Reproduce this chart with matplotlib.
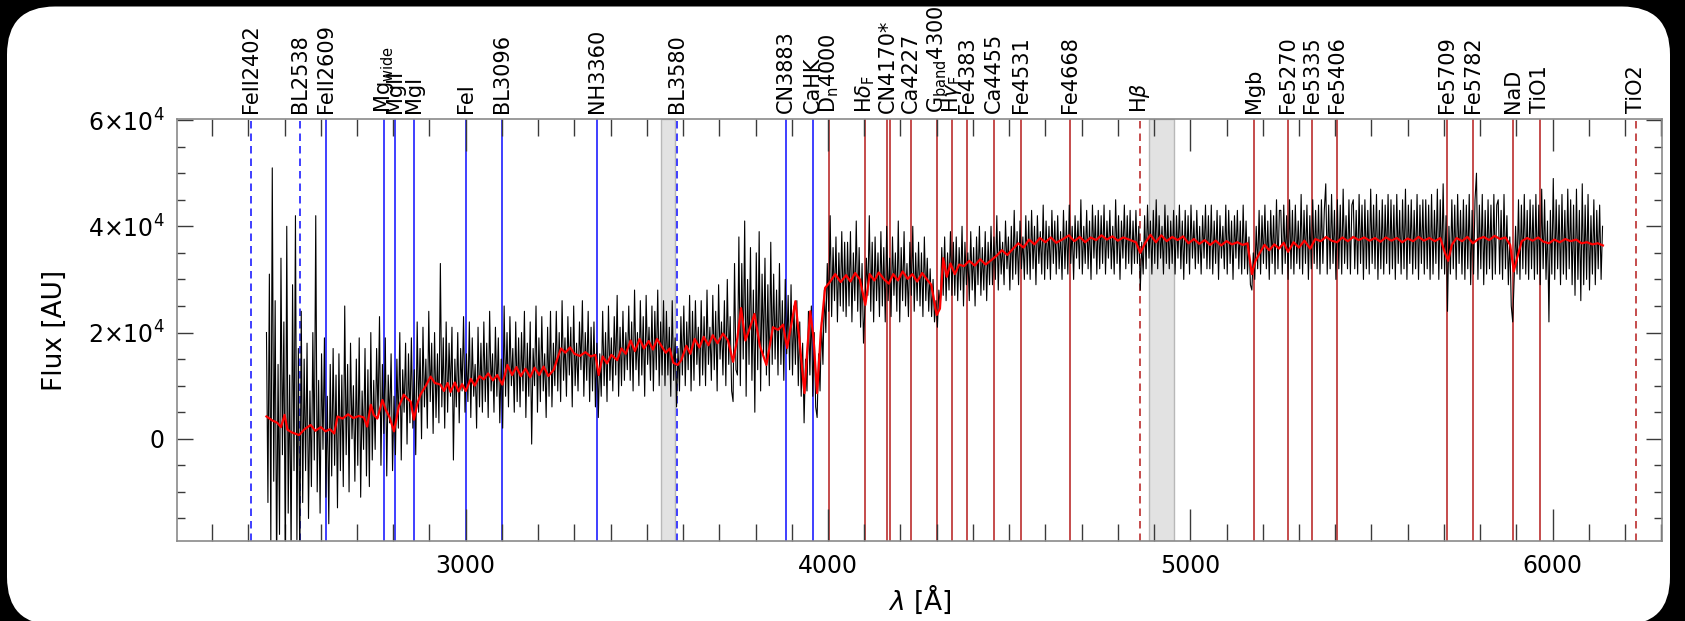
import numpy as np
import matplotlib.pyplot as plt
from matplotlib.patches import FancyBboxPatch
from matplotlib.transforms import IdentityTransform, blended_transform_factory
from matplotlib.ticker import MultipleLocator

plt.rcParams['font.family'] = 'DejaVu Sans'
plt.rcParams['mathtext.fontset'] = 'dejavusans'

# observed spectrum, 4 A sampling starting at 2450 A, flux in units of 1e3
obs_start = 2450
obs_step = 4
obs_flux = [
    20, -12, 31, -20, 51, -8, 26, -25, 14, -18, 34, -3, 22, -24, 40, -14, 12, -22, 29, -6, 42, -19, 17, -25, 24,
    -12, 15, -6, 18, -15, 9, -9, 20, -4, 42, -10, 11, -14, 16, -2, 19, -11, 8, -16, 14, -7, 17, -5, 12, -13,
    16, -6, 12, -9, 25, -3, 14, -10, 18, 0, 10, -8, 15, -5, 19, -11, 9, -2, 17, -7, 13, -9, 20, -4, 11,
    -2, 17, 4, 23, -5, 14, 1, 19, -7, 12, 3, 16, -6, 8, -3, 15, 2, 20, -4, 13, 5, 18, -1, 16, 3,
    19, 2, 13, -3, 22, 5, 17, 0, 21, 6, 15, 2, 24, 7, 18, 1, 20, 4, 16, 3, 33, 6, 19, 2, 22,
    5, 18, 8, 21, -4, 15, 6, 20, 3, 17, 9, 23, 5, 16, 7, 22, 4, 19, 8, 14, 2, 21, 6, 18, 5,
    22, 7, 18, 4, 24, 9, 16, 5, 21, 8, 19, 3, 15, 2, 25, 8, 20, 6, 23, 10, 17, 5, 22, 7, 19,
    6, 20, 9, 24, 4, 18, 8, 22, -1, 17, 10, 25, 5, 19, 7, 23, 9, 16, 4, 21, 8, 24, 6, 18, 10,
    24, 9, 20, 7, 26, 11, 19, 8, 23, 12, 21, 6, 25, 10, 18, 9, 22, 13, 26, 8, 20, 11, 24, 7, 21,
    9, 22, 6, 18, 4, 16, 8, 24, 10, 20, 7, 25, 11, 19, 9, 23, 12, 27, 8, 21, 10, 24, 11, 20, 13,
    25, 11, 22, 9, 28, 13, 20, 10, 26, 12, 23, 8, 27, 14, 21, 11, 25, 9, 24, 13, 28, 10, 22, 12, 26,
    10, 24, 12, 21, 8, 26, 11, 19, 6, 17, 9, 23, 12, 25, 10, 22, 13, 27, 9, 24, 11, 26, 14, 21, 10,
    26, 12, 23, 10, 28, 14, 21, 11, 27, 13, 24, 9, 29, 15, 22, 12, 26, 10, 30, 14, 23, 9, 7, 33, 13,
    12, 38, 10, 33, 15, 41, 8, 30, 14, 36, 11, 28, 5, 35, 13, 39, 9, 31, 16, 34, 12, 29, 10, 37, 14,
    31, 15, 28, 12, 33, 14, 26, 11, 30, 16, 27, 13, 29, 12, 25, 14, 26, 10, 22, 8, 18, 3, 15, 9, 24,
    12, 25, 8, 20, 6, 4, 16, 9, 22, 14, 28, 20, 33, 24, 42, 23, 36, 26, 38, 22, 35, 25, 39, 24, 37,
    23, 37, 25, 39, 22, 35, 26, 41, 24, 36, 21, 33, 18, 25, 34, 27, 42, 24, 37, 22, 38, 26, 35, 23, 39,
    25, 36, 22, 40, 26, 34, 23, 38, 27, 35, 24, 41, 22, 36, 26, 39, 25, 33, 23, 37, 27, 40, 24, 35, 26,
    37, 25, 35, 23, 38, 26, 34, 24, 32, 23, 30, 22, 26, 21, 28, 25, 36, 27, 38, 26, 35, 28, 39, 27, 37,
    27, 38, 26, 36, 28, 40, 25, 37, 29, 35, 26, 39, 28, 36, 25, 38, 29, 40, 27, 36, 28, 39, 26, 37, 29,
    40, 29, 38, 30, 42, 28, 39, 31, 37, 29, 41, 32, 38, 28, 40, 30, 43, 31, 39, 29, 41, 32, 38, 30, 42,
    31, 41, 30, 43, 32, 40, 29, 42, 33, 39, 31, 44, 30, 41, 32, 40, 30, 43, 33, 41, 31, 42, 32, 39, 30,
    43, 32, 41, 31, 44, 33, 40, 30, 42, 34, 41, 32, 45, 31, 40, 33, 43, 32, 41, 30, 44, 34, 42, 31, 43,
    32, 42, 33, 44, 31, 41, 34, 43, 32, 40, 31, 45, 33, 42, 30, 41, 34, 44, 32, 42, 33, 43, 31, 41, 33,
    43, 33, 40, 28, 37, 31, 42, 32, 44, 34, 41, 31, 43, 33, 45, 32, 42, 34, 40, 31, 44, 33, 42, 32, 41,
    33, 43, 31, 42, 34, 44, 32, 41, 30, 43, 33, 42, 31, 44, 34, 41, 32, 43, 33, 40, 31, 42, 34, 44, 32,
    42, 32, 44, 31, 41, 33, 43, 30, 42, 34, 40, 32, 44, 31, 43, 33, 41, 30, 42, 34, 43, 32, 41, 31, 44,
    32, 41, 31, 38, 29, 28, 35, 30, 40, 32, 43, 31, 42, 33, 44, 32, 41, 30, 43, 33, 42, 31, 45, 32, 43,
    43, 31, 44, 33, 42, 30, 45, 32, 43, 31, 44, 33, 41, 32, 46, 31, 43, 33, 44, 30, 42, 32, 45, 33, 43,
    32, 44, 31, 45, 33, 43, 48, 31, 44, 32, 46, 33, 43, 30, 45, 32, 44, 31, 47, 33, 42, 32, 45, 31, 44,
    45, 32, 43, 31, 46, 33, 44, 30, 45, 32, 43, 31, 47, 33, 44, 32, 46, 30, 43, 32, 45, 31, 44, 33, 46,
    31, 45, 32, 44, 30, 46, 33, 43, 31, 45, 32, 47, 30, 44, 33, 45, 31, 43, 32, 46, 30, 44, 33, 45, 31,
    45, 32, 44, 30, 46, 31, 43, 33, 47, 30, 45, 32, 48, 31, 42, 24, 40, 31, 45, 32, 44, 30, 46, 33, 43,
    31, 45, 30, 44, 32, 46, 29, 43, 31, 45, 50, 30, 44, 32, 46, 29, 43, 31, 45, 32, 44, 30, 46, 31, 44,
    45, 31, 43, 30, 46, 32, 42, 29, 38, 25, 22, 30, 40, 31, 45, 30, 44, 32, 46, 31, 43, 30, 45, 32, 44,
    30, 46, 31, 44, 29, 47, 32, 45, 30, 41, 22, 43, 31, 49, 30, 45, 32, 44, 29, 46, 31, 43, 30, 47, 32,
    45, 29, 44, 27, 47, 30, 43, 26, 48, 29, 44, 30, 46, 28, 42, 31, 45, 29, 43, 32, 44, 30, 40,
]
obs_wave = obs_start + obs_step * np.arange(len(obs_flux))

# model fit (red), flux in units of 1e3
model_wave = [
    2450, 2465, 2480, 2490, 2500, 2508, 2520, 2540, 2555, 2572, 2585, 2600, 2613, 2625, 2637, 2646,
    2660, 2675, 2690, 2705, 2719, 2728, 2738, 2746, 2756, 2770, 2779, 2790, 2802, 2815, 2829, 2840,
    2848, 2857, 2866, 2875, 2890, 2903, 2915, 2930, 2940, 2950, 2958, 2970, 2980, 2990, 3000, 3014,
    3025, 3038, 3050, 3062, 3075, 3087, 3101, 3115, 3128, 3140, 3152, 3165, 3178, 3190, 3203, 3215,
    3228, 3243, 3255, 3263, 3275, 3288, 3300, 3315, 3330, 3345, 3358, 3367, 3378, 3390, 3402, 3418,
    3430, 3442, 3455, 3467, 3480, 3492, 3505, 3517, 3528, 3540, 3552, 3563, 3573, 3585, 3595, 3609,
    3620, 3632, 3645, 3657, 3670, 3682, 3695, 3710, 3724, 3738, 3750, 3760, 3772, 3785, 3797, 3812,
    3830, 3848, 3862, 3876, 3887, 3900, 3910, 3922, 3935, 3943, 3951, 3960, 3970, 3980, 3992, 4005,
    4020, 4035, 4050, 4062, 4075, 4088, 4103, 4115, 4128, 4140, 4155, 4168, 4180, 4193, 4206, 4220,
    4233, 4246, 4260, 4273, 4285, 4300, 4309, 4318, 4328, 4338, 4350, 4362, 4375, 4390, 4405, 4420,
    4435, 4450, 4466, 4480, 4495, 4511, 4525, 4540, 4555, 4570, 4585, 4600, 4615, 4630, 4649, 4665,
    4680, 4695, 4710, 4725, 4740, 4755, 4770, 4785, 4800, 4815, 4834, 4850, 4862, 4875, 4890, 4905,
    4920, 4935, 4950, 4965, 4980, 4995, 5010, 5025, 5040, 5055, 5070, 5085, 5100, 5115, 5130, 5145,
    5158, 5170, 5180, 5192, 5205, 5218, 5232, 5245, 5258, 5270, 5285, 5300, 5315, 5331, 5345, 5360,
    5375, 5390, 5405, 5420, 5435, 5450, 5465, 5480, 5495, 5510, 5525, 5540, 5555, 5570, 5585, 5600,
    5615, 5630, 5645, 5660, 5675, 5690, 5703, 5712, 5722, 5735, 5750, 5765, 5780, 5795, 5810, 5825,
    5840, 5855, 5870, 5883, 5893, 5902, 5915, 5930, 5945, 5960, 5975, 5990, 6005, 6020, 6035, 6050,
    6065, 6080, 6095, 6110, 6125, 6139,
]
model_flux = [
    4.2, 3.5, 3.0, 2.2, 4.5, 1.7, 1.2, 0.7, 1.8, 2.6, 1.5, 2.2, 1.4, 1.8, 1.0, 4.2,
    3.8, 4.6, 3.9, 4.3, 4.0, 2.3, 6.4, 4.5, 3.8, 7.3, 5.5, 4.0, 1.4, 6.0, 8.3, 7.5,
    7.0, 3.6, 6.5, 8.3, 10.0, 11.7, 10.5, 10.2, 9.0, 10.5, 8.8, 10.6, 8.9, 10.3, 9.0, 11.3,
    10.0, 11.8, 11.2, 12.3, 11.0, 12.0, 10.2, 13.9, 12.0, 13.5, 11.8, 13.2, 11.6, 13.4, 12.0, 13.6,
    11.8, 13.0, 15.5, 17.0, 16.2, 17.2, 16.0, 15.6, 16.3, 15.5, 15.8, 12.0, 15.5, 14.2, 15.8, 14.8,
    17.0, 16.0, 18.5, 16.5, 18.8, 17.0, 18.4, 16.8, 18.8, 17.5, 16.2, 17.0, 14.3, 13.9, 14.8, 17.5,
    16.0, 18.8, 17.2, 19.2, 17.6, 19.5, 18.0, 19.8, 18.5, 14.5, 19.0, 24.6, 18.5, 21.0, 23.5, 17.5,
    13.9, 21.0, 20.5, 21.5, 17.1, 22.0, 25.9, 18.0, 8.6, 17.0, 24.0, 19.0, 8.6, 20.0, 28.4, 29.5,
    31.0, 29.5, 30.8, 29.6, 31.2, 30.0, 25.2, 31.0, 29.8, 31.3, 30.0, 29.2, 31.0, 29.8, 31.5, 30.1,
    31.0, 29.6, 31.2, 30.0, 29.0, 23.3, 24.5, 34.0, 30.5, 33.0, 31.0, 32.8, 32.5, 33.5, 32.6, 33.8,
    32.8, 33.6, 34.5, 35.5, 34.6, 35.8, 36.8, 36.0, 37.5, 36.6, 37.8, 37.0, 37.9, 36.9, 37.6, 38.3,
    37.2, 38.0, 37.0, 37.9, 37.4, 38.3, 37.5, 38.1, 37.3, 37.9, 37.4, 37.0, 35.0, 36.8, 38.4, 37.0,
    38.3, 37.2, 38.0, 37.4, 38.1, 36.8, 37.6, 36.7, 37.4, 36.5, 37.3, 36.4, 37.2, 36.6, 37.0, 36.5,
    36.8, 31.0, 33.5, 35.0, 36.5, 35.5, 36.6, 35.8, 36.9, 35.2, 37.0, 36.0, 37.3, 35.8, 37.6, 37.2,
    38.0, 37.3, 37.0, 37.9, 37.2, 38.0, 37.4, 37.9, 37.3, 37.8, 37.1, 37.9, 37.3, 37.8, 37.0, 37.7,
    37.2, 38.0, 37.3, 37.8, 37.2, 37.8, 35.0, 33.5, 36.5, 37.8, 37.2, 38.0, 36.8, 37.6, 38.0, 37.4,
    38.2, 37.6, 37.9, 36.5, 31.5, 34.0, 37.2, 37.8, 37.3, 37.9, 37.1, 36.8, 37.5, 37.0, 37.6, 37.2,
    37.5, 36.8, 37.0, 36.6, 36.8, 36.4,
]

# spectral indices marked on top axis
index_names = [
    'FeII2402', 'BL2538', 'FeII2609', r'$\mathrm{Mg_{wide}}$', 'MgII', 'MgI', 'FeI', 'BL3096',
    'NH3360', 'BL3580', 'CN3883', 'CaHK', r'$\mathrm{D_n}$4000', r'$\mathrm{H}\delta_\mathrm{F}$',
    'CN4170*', 'Ca4227', r'$\mathrm{G_{band}}$4300', r'$\mathrm{H}\gamma_\mathrm{F}$', 'Fe4383',
    'Ca4455', 'Fe4531', 'Fe4668', r'$\mathrm{H}\beta$', 'Mgb', 'Fe5270', 'Fe5335', 'Fe5406',
    'Fe5709', 'Fe5782', 'NaD', 'TiO1', 'TiO2',
]
index_waves = [
    2406, 2543, 2613, 2775, 2804, 2857, 3000, 3101,
    3363, 3583, 3885, 3958, 4002, 4103,
    4164, 4229, 4301, 4343, 4385,
    4457, 4533, 4669, 4862, 5177, 5270, 5336, 5405,
    5709, 5781, 5891, 5964, 6229,
]
dashed_names = ['FeII2402', 'BL2538', 'BL3580', r'$\mathrm{H}\beta$', 'TiO2']
extra_lines = [4171]  # second line of the CN4170 pair

# masked regions
masked_bands = [(3539, 3579), (4887, 4954)]

fig = plt.figure(figsize=(16.85, 6.21), dpi=100, facecolor='black')
panel = FancyBboxPatch((7, -4), 1663, 618.5, boxstyle='round,pad=0,rounding_size=48',
                       transform=IdentityTransform(), facecolor='white', edgecolor='none',
                       zorder=-10)
fig.patches.append(panel)

ax = fig.add_axes([0.10504, 0.12834, 0.88107, 0.68003])
ax.set_facecolor('white')

for lo, hi in masked_bands:
    ax.axvspan(lo, hi, facecolor='#e2e2e2', edgecolor='#b8b8b8', lw=1.0, zorder=0)

blue = '#1f1fff'
red = '#bb2d2d'
for name, w in zip(index_names, index_waves):
    col = blue if w < 4000 else red
    ls = (0, (4.5, 3)) if name in dashed_names else '-'
    ax.axvline(w, color=col, lw=1.2, ls=ls, zorder=1)
for w in extra_lines:
    ax.axvline(w, color=red, lw=1.2, zorder=1)

obs = np.array(obs_flux) * 1e3
model = np.array(model_flux) * 1e3
ax.plot(obs_wave, obs, color='black', lw=0.8, zorder=2)
ax.plot(model_wave, model, color='#ff0000', lw=1.6, zorder=3)

ax.set_xlim(2203, 6301)
ax.set_ylim(-19300, 60200)

ax.xaxis.set_major_locator(MultipleLocator(1000))
ax.xaxis.set_minor_locator(MultipleLocator(100))
ax.set_yticks([0, 2e4, 4e4, 6e4])
ax.set_yticklabels(['0', r'$2{\times}10^4$', r'$4{\times}10^4$', r'$6{\times}10^4$'])
ax.yaxis.set_minor_locator(MultipleLocator(5000))

tick_col = '#3a3a3a'
ax.tick_params(axis='x', which='major', direction='in', top=True, bottom=True,
               length=23, width=1.0, color=tick_col, labelsize=17, pad=9)
ax.tick_params(axis='x', which='minor', direction='in', top=True, bottom=True,
               length=12, width=1.0, color=tick_col)
ax.tick_params(axis='y', which='major', direction='in', left=True, right=True,
               length=11.5, width=1.0, color=tick_col, labelsize=17, pad=9)
ax.tick_params(axis='y', which='minor', direction='in', left=True, right=True,
               length=6, width=1.0, color=tick_col)
for sp in ax.spines.values():
    sp.set_color('#8a8a8a')
    sp.set_linewidth(1.2)

ax.set_xlabel(r'$\lambda$ [Å]', fontsize=19, labelpad=4)
ax.set_ylabel('Flux [AU]', fontsize=19, labelpad=14)

trans = blended_transform_factory(ax.transData, ax.transAxes)
for name, w in zip(index_names, index_waves):
    ax.text(w, 1.014, name, transform=trans, rotation=90, ha='center', va='bottom',
            fontsize=15, color='black')

fig.savefig('out.png', dpi=100)
